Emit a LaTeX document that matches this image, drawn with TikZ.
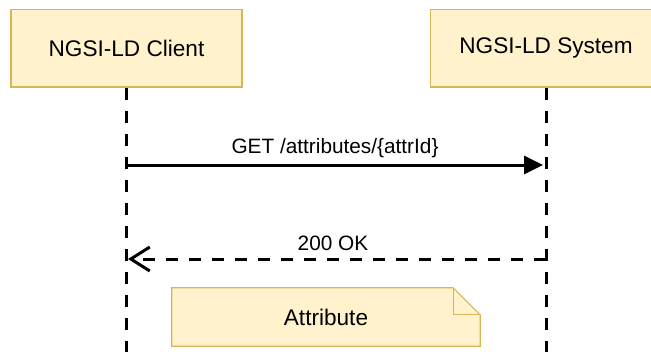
\documentclass[tikz,border=0pt]{standalone}
\usepackage{fontspec}
\setmainfont{Liberation Sans}
\usetikzlibrary{arrows.meta}
\definecolor{notefill}{HTML}{FFF2CC}
\definecolor{notedraw}{HTML}{D6B656}
\begin{document}
\begin{tikzpicture}[x=1pt,y=-1pt,
  actorbox/.style={draw=notedraw,fill=notefill,line width=1.2pt,minimum width=231pt,minimum height=77.5pt,inner sep=0pt,font=\fontsize{22.6}{26}\selectfont},
  lifeline/.style={line width=3pt,dash pattern=on 12pt off 11pt},
  msglabel/.style={font=\fontsize{20.8}{24}\selectfont,inner sep=0pt},
  callarrow/.style={line width=3pt,-{Triangle[length=19pt,width=18pt]}},
  replyarrow/.style={line width=3pt,dash pattern=on 12pt off 11pt,-{Straight Barb[length=19pt,width=24pt,line width=3pt]}},
  notetext/.style={font=\fontsize{22.6}{26}\selectfont,inner sep=0pt,minimum width=308pt,minimum height=58pt}
]
\useasboundingbox (0,0) rectangle (651,351);
\node[actorbox] (client) at (126.5,48.25) {NGSI-LD Client};
\node[actorbox] (system) at (546,48.25) {NGSI-LD System};
\coordinate (clientend) at (126.5,360);
\coordinate (systemend) at (546,360);
\draw[lifeline] (client.south) -- (clientend);
\draw[lifeline] (system.south) -- (systemend);
% GET
\coordinate (c1) at (126.5,165);
\coordinate (s1) at (543,165);
\draw[callarrow] (c1) -- (s1);
\node[msglabel] (getlabel) at (335,148) {GET /attributes/\{attrId\}};
% 200 OK
\coordinate (s2) at (546,259);
\coordinate (c2) at (128,259);
\draw[replyarrow] (s2) -- (c2);
\node[msglabel] (oklabel) at (333,243) {200 OK};
% note
\node[notetext] (note) at (326,317) {};
\draw[draw=notedraw,fill=notefill,line width=1.2pt,line join=miter]
  (note.north west) -- ([xshift=-27pt]note.north east) -- ([yshift=-27pt]note.north east)
  -- (note.south east) -- (note.south west) -- cycle;
\draw[draw=notedraw,line width=1.2pt]
  ([xshift=-27pt]note.north east) -- ([xshift=-27pt,yshift=-27pt]note.north east) -- ([yshift=-27pt]note.north east);
\node[notetext] (notelabel) at (note.center) {Attribute};
\end{tikzpicture}
\end{document}
